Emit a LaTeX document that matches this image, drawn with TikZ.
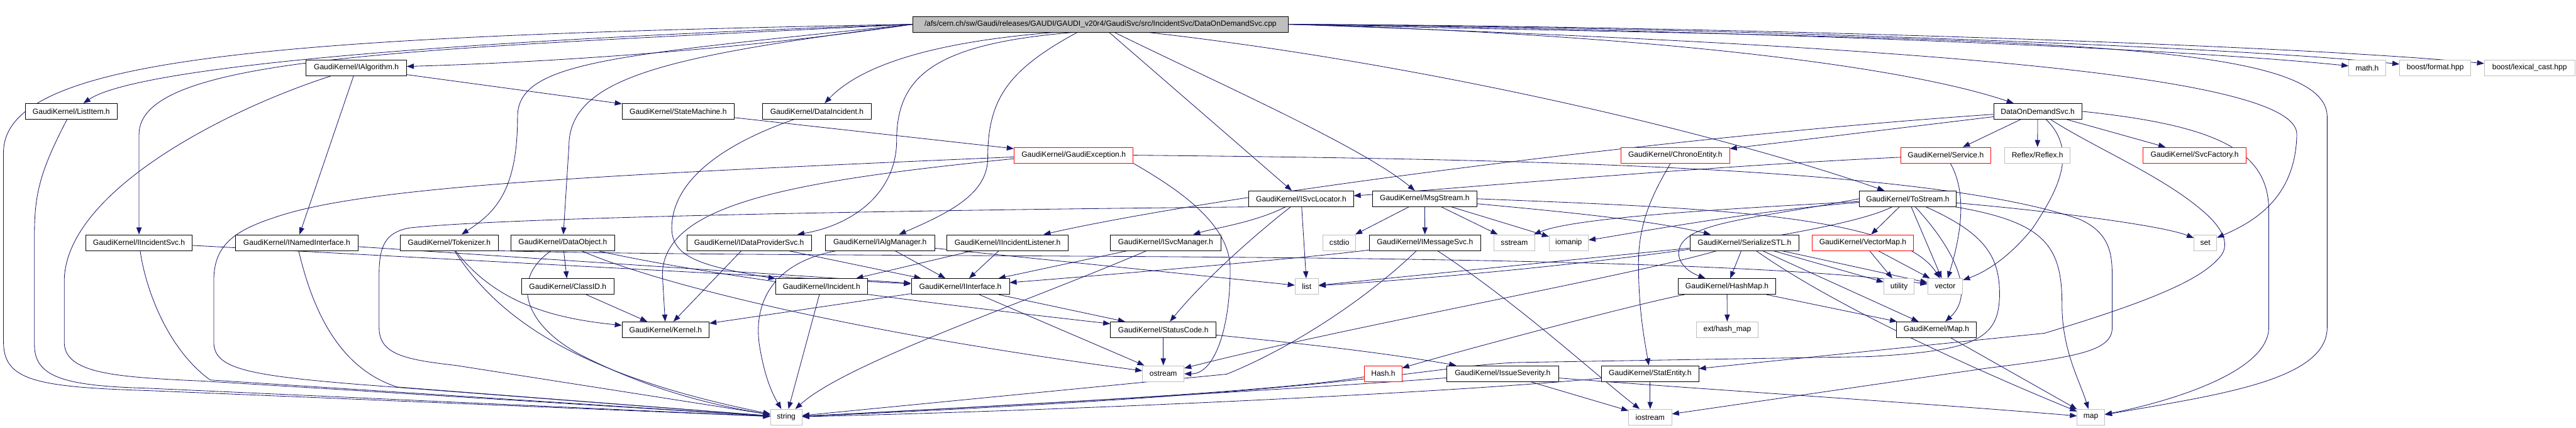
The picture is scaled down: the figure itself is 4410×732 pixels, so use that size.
\documentclass[tikz,border=0pt]{standalone}
\usepackage{fontspec}
\newfontfamily\labfont{Liberation Sans}
\usetikzlibrary{arrows.meta}
\pgfdeclarelayer{edges}
\pgfsetlayers{edges,main}
\definecolor{edgec}{HTML}{191970}
\definecolor{grayb}{HTML}{BFBFBF}
\tikzset{
  e/.style={draw=edgec, line width=0.9pt, -{Triangle[length=12pt,width=9pt]}},
  nb/.style={draw=black, line width=0.9pt, rectangle, minimum height=27pt, inner xsep=2pt, inner ysep=0pt, font=\labfont\fontsize{13}{15}\selectfont, text=black, fill=white},
  ng/.style={nb, draw=grayb},
  nr/.style={nb, draw=red},
}
\begin{document}
\begin{tikzpicture}[x=1pt,y=-1pt]
\useasboundingbox (0,0) rectangle (4410,732);
% nodes
\node[nb, fill=grayb, minimum width=642pt] (main) at (1884,41.5) {/afs/cern.ch/sw/Gaudi/releases/GAUDI/GAUDI\_v20r4/GaudiSvc/src/IncidentSvc/DataOnDemandSvc.cpp};
\node[nb, minimum width=172pt] (IAlgorithm) at (610,116) {GaudiKernel/IAlgorithm.h};
\node[ng, minimum width=63pt] (mathh) at (4052.5,116) {math.h};
\node[ng, minimum width=122pt] (bformat) at (4169,116) {boost/format.hpp};
\node[ng, minimum width=155pt] (blex) at (4330.5,116) {boost/lexical\_cast.hpp};
\node[nb, minimum width=158pt] (ListItem) at (122,190.5) {GaudiKernel/ListItem.h};
\node[nb, minimum width=192pt] (StateMachine) at (1161,190.5) {GaudiKernel/StateMachine.h};
\node[nb, minimum width=187pt] (DataIncident) at (1398.5,190.5) {GaudiKernel/DataIncident.h};
\node[nb, minimum width=151pt] (DODSvc) at (3488.5,190.5) {DataOnDemandSvc.h};
\node[nr, minimum width=204pt] (GaudiException) at (1838,265.5) {GaudiKernel/GaudiException.h};
\node[nr, minimum width=186pt] (ChronoEntity) at (2868,265.5) {GaudiKernel/ChronoEntity.h};
\node[nr, minimum width=154pt] (Service) at (3331,265.5) {GaudiKernel/Service.h};
\node[ng, minimum width=112pt] (Reflex) at (3488,265.5) {Reflex/Reflex.h};
\node[nr, minimum width=176pt] (SvcFactory) at (3757,265.5) {GaudiKernel/SvcFactory.h};
\node[nb, minimum width=179pt] (ISvcLocator) at (2227.5,340) {GaudiKernel/ISvcLocator.h};
\node[nb, minimum width=178pt] (MsgStream) at (2439,340) {GaudiKernel/MsgStream.h};
\node[nb, minimum width=166pt] (ToStream) at (3266,340) {GaudiKernel/ToStream.h};
\node[nb, minimum width=182pt] (IIncidentSvc) at (238,415) {GaudiKernel/IIncidentSvc.h};
\node[nb, minimum width=210pt] (INamedInterface) at (508,415) {GaudiKernel/INamedInterface.h};
\node[nb, minimum width=168pt] (Tokenizer) at (769,415) {GaudiKernel/Tokenizer.h};
\node[nb, minimum width=177pt] (DataObject) at (963.5,415) {GaudiKernel/DataObject.h};
\node[nb, minimum width=213pt] (IDataProviderSvc) at (1282.5,415) {GaudiKernel/IDataProviderSvc.h};
\node[nb, minimum width=187pt] (IAlgManager) at (1506.5,415) {GaudiKernel/IAlgManager.h};
\node[nb, minimum width=208pt] (IIncidentListener) at (1725,415) {GaudiKernel/IIncidentListener.h};
\node[nb, minimum width=189pt] (ISvcManager) at (1995.5,415) {GaudiKernel/ISvcManager.h};
\node[ng, minimum width=56pt] (cstdio) at (2293,415) {cstdio};
\node[nb, minimum width=191pt] (IMessageSvc) at (2439.5,415) {GaudiKernel/IMessageSvc.h};
\node[ng, minimum width=69pt] (sstream) at (2592.5,415) {sstream};
\node[ng, minimum width=67pt] (iomanip) at (2685.5,415) {iomanip};
\node[nb, minimum width=187pt] (SerializeSTL) at (2986.5,415) {GaudiKernel/SerializeSTL.h};
\node[nr, minimum width=174pt] (VectorMap) at (3189,415) {GaudiKernel/VectorMap.h};
\node[ng, minimum width=39pt] (setn) at (3775.5,415) {set};
\node[nb, minimum width=158pt] (ClassID) at (972,490) {GaudiKernel/ClassID.h};
\node[nb, minimum width=157pt] (Incident) at (1406.5,490) {GaudiKernel/Incident.h};
\node[nb, minimum width=168pt] (IInterface) at (1644,490) {GaudiKernel/IInterface.h};
\node[ng, minimum width=40pt] (listn) at (2237,490) {list};
\node[nb, minimum width=167pt] (HashMap) at (2956.5,490) {GaudiKernel/HashMap.h};
\node[ng, minimum width=52pt] (utility) at (3251,490) {utility};
\node[ng, minimum width=60pt] (vectorn) at (3330,490) {vector};
\node[nb, minimum width=149pt] (Kernel) at (1139.5,564) {GaudiKernel/Kernel.h};
\node[nb, minimum width=181pt] (StatusCode) at (1991.5,564) {GaudiKernel/StatusCode.h};
\node[ng, minimum width=106pt] (exthash) at (2957,564) {ext/hash\_map};
\node[nb, minimum width=136pt] (Mapn) at (3315,564) {GaudiKernel/Map.h};
\node[ng, minimum width=71pt] (ostreamn) at (1991.5,639) {ostream};
\node[nr, minimum width=64pt] (Hash) at (2368,639) {Hash.h};
\node[nb, minimum width=191pt] (IssueSeverity) at (2572.5,639) {GaudiKernel/IssueSeverity.h};
\node[nb, minimum width=166pt] (StatEntity) at (2825,639) {GaudiKernel/StatEntity.h};
\node[ng, minimum width=54pt] (stringn) at (1346,713.5) {string};
\node[ng, minimum width=74pt] (iostreamn) at (2825,713.5) {iostream};
\node[ng, minimum width=47pt] (mapn) at (3579.5,713.5) {map};

\begin{pgfonlayer}{edges}
% main
\draw[e] (main.west) .. controls (700,72) and (230,118) .. (ListItem);
\draw[e] (main.west) .. controls (1250,88) and (900,108) .. (IAlgorithm);
\draw[e] (main.west) .. controls (450,62) and (8,100) .. (6,260) -- (6,585) .. controls (6,650) and (60,662) .. (250,668) -- (stringn);
\draw[e] (main.west) .. controls (700,85) and (238,95) .. (238,230) -- (IIncidentSvc);
\draw[e] (main.west) .. controls (1050,95) and (886,105) .. (886,200) .. controls (886,330) and (845,365) .. (Tokenizer);
\draw[e] (main.west) .. controls (1150,95) and (974,130) .. (974,250) -- (DataObject);
\draw[e] ([xshift=-80pt]main.south) .. controls (1620,70) and (1480,105) .. (DataIncident);
\draw[e] ([xshift=-47pt]main.south) .. controls (1600,75) and (1535,130) .. (1535,240) .. controls (1535,330) and (1460,385) .. (IDataProviderSvc);
\draw[e] ([xshift=-40pt]main.south) .. controls (1725,120) and (1691,170) .. (1691,270) .. controls (1691,330) and (1630,362) .. (IAlgManager);
\draw[e] ([xshift=15pt]main.south) -- (ISvcLocator);
\draw[e] ([xshift=24pt]main.south) .. controls (2080,140) and (2330,250) .. (MsgStream);
\draw[e] ([xshift=82pt]main.south) .. controls (2450,110) and (2950,230) .. (ToStream);
\draw[e] (main.east) .. controls (2800,58) and (3250,110) .. (DODSvc);
\draw[e] (main.east) .. controls (2900,50) and (3700,80) .. (mathh);
\draw[e] (main.east) .. controls (2900,46) and (3800,78) .. (bformat);
\draw[e] (main.east) .. controls (2900,44) and (3900,75) .. (blex);
\draw[e] (main.east) .. controls (3300,80) and (3934,130) .. (3932,230) .. controls (3930,330) and (3870,375) .. (setn);
\draw[e] (main.east) .. controls (3400,70) and (3984,60) .. (3984,200) -- (3984,560) .. controls (3984,650) and (3800,675) .. (mapn);
% IAlgorithm
\draw[e] (IAlgorithm) -- (StateMachine);
\draw[e] (IAlgorithm) -- (INamedInterface);
\draw[e] (IAlgorithm) .. controls (380,190) and (112,330) .. (110,480) -- (110,585) .. controls (110,640) and (200,645) .. (350,652) -- (stringn);
% ListItem
\draw[e] (ListItem) .. controls (70,290) and (59,330) .. (59,400) -- (59,590) .. controls (59,645) and (110,660) .. (250,664) -- (stringn);
% StateMachine, DataIncident
\draw[e] (StateMachine) -- (GaudiException);
\draw[e] (DataIncident) .. controls (1200,260) and (1150,330) .. (1150,390) .. controls (1150,440) and (1200,455) .. (Incident);
% GaudiException
\draw[e] ([yshift=-6pt]GaudiException.west) .. controls (1350,310) and (1135,350) .. (1134,470) -- (Kernel);
\draw[e] ([yshift=-3pt]GaudiException.west) .. controls (1000,300) and (620,320) .. (470,372) .. controls (400,395) and (366,420) .. (366,480) -- (366,585) .. controls (366,630) and (420,642) .. (620,658) -- (stringn);
\draw[e] (GaudiException.south east) .. controls (2010,320) and (2106,380) .. (2106,460) .. controls (2106,560) and (2080,640) .. (ostreamn);
\draw[e] (GaudiException.east) .. controls (2600,272) and (3300,285) .. (3560,375) .. controls (3616,400) and (3616,440) .. (3616,480) -- (3616,560) .. controls (3616,600) and (3560,610) .. (3400,630) -- (iostreamn);
% IIncidentSvc, INamedInterface
\draw[e] (IIncidentSvc) -- (IInterface);
\draw[e] (IIncidentSvc) .. controls (250,500) and (290,600) .. (360,650) -- (stringn);
\draw[e] (INamedInterface) -- (IInterface);
\draw[e] (INamedInterface) .. controls (535,530) and (580,630) .. (680,662) -- (stringn);
% Tokenizer
\draw[e] (Tokenizer) .. controls (850,520) and (950,545) .. (Kernel);
\draw[e] (Tokenizer) .. controls (850,540) and (980,640) .. (stringn);
\draw[e] (Tokenizer.south east) .. controls (1500,445) and (2850,425) .. (vectorn);
% DataObject
\draw[e] (DataObject) -- (ClassID);
\draw[e] (DataObject) .. controls (870,480) and (900,560) .. (1000,610) .. controls (1100,660) and (1200,690) .. (stringn);
\draw[e] (DataObject) .. controls (1100,475) and (1400,560) .. (ostreamn);
\draw[e] (DataObject) .. controls (1200,470) and (1600,520) .. (StatusCode);
\draw[e] (ClassID) -- (Kernel);
% IDataProviderSvc, IAlgManager, IIncidentListener, ISvcManager
\draw[e] (IDataProviderSvc) -- (Kernel);
\draw[e] (IDataProviderSvc) -- (IInterface);
\draw[e] (IAlgManager) -- (IInterface);
\draw[e] (IAlgManager) .. controls (1320,450) and (1290,520) .. (1300,590) .. controls (1308,640) and (1320,670) .. (stringn);
\draw[e] (IAlgManager) -- (listn);
\draw[e] (IIncidentListener) -- (IInterface);
\draw[e] (IIncidentListener) -- (Incident);
\draw[e] (ISvcManager) -- (IInterface);
\draw[e] (ISvcManager) .. controls (1750,520) and (1450,620) .. (stringn);
% IInterface, StatusCode, Incident
\draw[e] (IInterface) -- (Kernel);
\draw[e] (IInterface) -- (StatusCode);
\draw[e] (IInterface) -- (ostreamn);
\draw[e] (StatusCode) -- (ostreamn);
\draw[e] (StatusCode) .. controls (2200,585) and (2350,600) .. (IssueSeverity);
\draw[e] (Incident) -- (stringn);
% ISvcLocator
\draw[e] (ISvcLocator) -- (listn);
\draw[e] (ISvcLocator) .. controls (2150,380) and (2080,390) .. (ISvcManager);
\draw[e] (ISvcLocator) .. controls (2150,400) and (2060,480) .. (StatusCode);
\draw[e] (ISvcLocator.south west) .. controls (1800,357) and (900,368) .. (700,390) .. controls (660,398) and (649,420) .. (649,470) -- (649,560) .. controls (649,605) and (690,615) .. (780,625) -- (stringn);
% MsgStream
\draw[e] (MsgStream) -- (IMessageSvc);
\draw[e] (MsgStream) -- (cstdio);
\draw[e] (MsgStream) -- (sstream);
\draw[e] (MsgStream) -- (iomanip);
\draw[e] (MsgStream) .. controls (2650,360) and (2820,375) .. (SerializeSTL);
\draw[e] (MsgStream.east) .. controls (2900,355) and (3250,365) .. (vectorn);
% IMessageSvc
\draw[e] (IMessageSvc) .. controls (2250,440) and (1900,470) .. (IInterface);
\draw[e] (IMessageSvc) .. controls (2330,520) and (2200,600) .. (2100,640) -- (stringn);
\draw[e] (IMessageSvc) .. controls (2600,520) and (2730,640) .. (iostreamn);
% SerializeSTL
\draw[e] (SerializeSTL) -- (listn);
\draw[e] (SerializeSTL) -- (HashMap);
\draw[e] (SerializeSTL) -- (utility);
\draw[e] (SerializeSTL) -- (vectorn);
\draw[e] (SerializeSTL) -- (Mapn);
\draw[e] (SerializeSTL) .. controls (3150,530) and (3400,640) .. (mapn);
\draw[e] (SerializeSTL) .. controls (2800,470) and (2300,560) .. (ostreamn);
% VectorMap, HashMap, Map
\draw[e] (VectorMap) -- (utility);
\draw[e] (VectorMap) -- (vectorn);
\draw[e] (HashMap) -- (exthash);
\draw[e] (HashMap) -- (Mapn);
\draw[e] (HashMap) .. controls (2800,520) and (2500,600) .. (Hash);
\draw[e] (Mapn) -- (mapn);
% Hash, IssueSeverity, StatEntity, ChronoEntity
\draw[e] (Hash) .. controls (2200,668) and (1800,690) .. (stringn);
\draw[e] (IssueSeverity) .. controls (2300,660) and (1800,690) .. (stringn);
\draw[e] (IssueSeverity) -- (iostreamn);
\draw[e] (IssueSeverity) .. controls (2900,665) and (3300,690) .. (mapn);
\draw[e] (StatEntity) .. controls (2500,670) and (1900,700) .. (stringn);
\draw[e] (StatEntity) -- (iostreamn);
\draw[e] (ChronoEntity) .. controls (2830,330) and (2805,380) .. (2805,450) .. controls (2805,530) and (2815,580) .. (StatEntity);
% Service
\draw[e] (Service) .. controls (2900,285) and (2400,330) .. (ISvcLocator);
\draw[e] (Service) .. controls (3362,320) and (3364,380) .. (vectorn);
% DataOnDemandSvc
\draw[e] (DODSvc) .. controls (2900,230) and (2100,330) .. (IIncidentListener);
\draw[e] (DODSvc) -- (ChronoEntity);
\draw[e] (DODSvc) -- (Service);
\draw[e] (DODSvc) -- (Reflex);
\draw[e] (DODSvc) -- (SvcFactory);
\draw[e] (DODSvc) .. controls (3560,260) and (3520,330) .. (3480,390) .. controls (3440,440) and (3400,465) .. (vectorn);
\draw[e] (DODSvc) .. controls (3590,255) and (3700,300) .. (3770,360) .. controls (3808,392) and (3818,420) .. (3800,440) .. controls (3770,475) and (3700,510) .. (3500,570) -- (StatEntity);
\draw[e] (DODSvc.east) .. controls (3800,215) and (3884,260) .. (3884,360) -- (3884,560) .. controls (3884,640) and (3700,690) .. (mapn);
% ToStream
\draw[e] (ToStream) -- (VectorMap);
\draw[e] (ToStream.west) .. controls (3000,375) and (2880,380) .. (2874,430) .. controls (2872,450) and (2890,465) .. (HashMap);
\draw[e] (ToStream) .. controls (3150,400) and (2700,460) .. (listn);
\draw[e] (ToStream) .. controls (3000,360) and (2760,405) .. (iomanip);
\draw[e] (ToStream) .. controls (3000,355) and (2700,370) .. (sstream);
\draw[e] (ToStream) .. controls (3340,420) and (3385,500) .. (Mapn);
\draw[e] (ToStream) -- (vectorn);
\draw[e] (ToStream) .. controls (3500,360) and (3700,385) .. (setn);
\draw[e] (ToStream) .. controls (3400,400) and (3425,440) .. (3423,510) .. controls (3420,580) and (3380,600) .. (3200,610) -- (2600,620) .. controls (2450,625) and (2350,670) .. (stringn);
\draw[e] (ToStream) .. controls (3500,380) and (3530,420) .. (3530,520) .. controls (3530,600) and (3560,650) .. (mapn);
\end{pgfonlayer}
\end{tikzpicture}
\end{document}
